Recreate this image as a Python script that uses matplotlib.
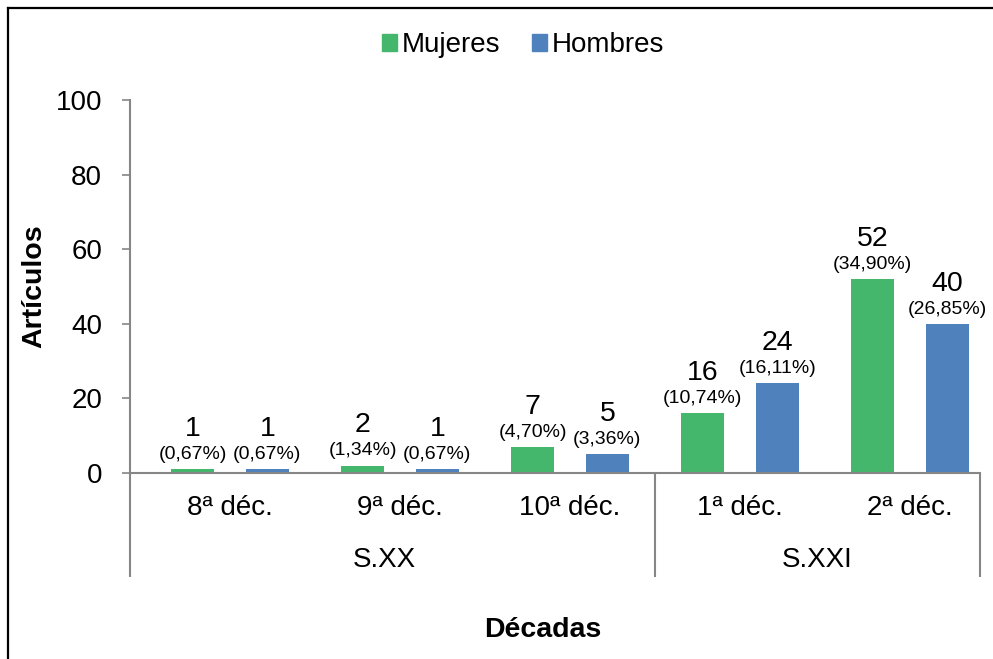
import matplotlib
matplotlib.use("Agg")
import matplotlib.pyplot as plt
import matplotlib.transforms as mtransforms
from matplotlib.patches import Patch
from matplotlib.lines import Line2D
import numpy as np

# --- data ---
decades = ["8ª déc.", "9ª déc.", "10ª déc.", "1ª déc.", "2ª déc."]
centuries = ["S.XX", "S.XXI"]
mujeres = [1, 2, 7, 16, 52]
hombres = [1, 1, 5, 24, 40]
mujeres_pct = ["(0,67%)", "(1,34%)", "(4,70%)", "(10,74%)", "(34,90%)"]
hombres_pct = ["(0,67%)", "(0,67%)", "(3,36%)", "(16,11%)", "(26,85%)"]

GREEN = "#45B76C"
BLUE = "#4F81BD"
AXIS = "#868686"
FONT = ["Liberation Sans", "DejaVu Sans"]

plt.rcParams["font.family"] = FONT

fig = plt.figure(figsize=(9.93, 6.59), dpi=100)
ax = fig.add_axes([130 / 993, 1 - 473 / 659, 850 / 993, 373 / 659])

x = np.arange(len(decades))
w = 0.25
off = 0.22
ax.bar(x - off, mujeres, w, color=GREEN, edgecolor="none")
ax.bar(x + off, hombres, w, color=BLUE, edgecolor="none")

ax.set_xlim(-0.588, 4.412)
ax.set_ylim(0, 100)
ax.set_yticks(range(0, 101, 20))
ax.tick_params(axis="y", labelsize=20, length=6, width=1.2, color=AXIS, pad=14)
ax.set_xticks([])

for s in ["top", "right"]:
    ax.spines[s].set_visible(False)
for s in ["left", "bottom"]:
    ax.spines[s].set_color(AXIS)
    ax.spines[s].set_linewidth(1.5)

# data labels: count + percentage
for vals, pcts, sign in [(mujeres, mujeres_pct, -1), (hombres, hombres_pct, 1)]:
    for i, (v, p) in enumerate(zip(vals, pcts)):
        xi = i + sign * off
        ax.annotate(p, (xi, v), xytext=(0, 10.5), textcoords="offset points",
                    ha="center", va="center", fontsize=14)
        ax.annotate(str(v), (xi, v), xytext=(0, 29), textcoords="offset points",
                    ha="center", va="center", fontsize=20.5)

# multi-level category axis
trans = mtransforms.blended_transform_factory(ax.transData, ax.transAxes)
low = -104 / 373
for xb in [-0.588, 2.5, 4.412]:
    ax.plot([xb, xb], [0, low], transform=trans, color=AXIS, lw=1.5,
            clip_on=False, solid_capstyle="butt")
for i, lab in enumerate(decades):
    ax.annotate(lab, (i, 0), xycoords=trans, xytext=(0, -25.5),
                textcoords="offset points", ha="center", va="center", fontsize=20)
bounds = [(-0.588, 2.5), (2.5, 4.412)]
for lab, (a, b) in zip(centuries, bounds):
    ax.annotate(lab, ((a + b) / 2 - 0.05 * (lab == "S.XX"), 0), xycoords=trans,
                xytext=(0, -62.5), textcoords="offset points",
                ha="center", va="center", fontsize=20)

ax.set_ylabel("Artículos", fontsize=20.5, fontweight="bold")
ax.yaxis.set_label_coords(-83 / 850, 0.5)
fig.text(543 / 993, 1 - 630 / 659, "Décadas", ha="center", va="center",
         fontsize=20.5, fontweight="bold")

handles = [Patch(color=GREEN, label="Mujeres"), Patch(color=BLUE, label="Hombres")]
fig.legend(handles=handles, loc="center", bbox_to_anchor=(523 / 993, 1 - 45 / 659),
           ncol=2, frameon=False, fontsize=20, handlelength=0.55, handleheight=0.55,
           handletextpad=0.15, columnspacing=1.15, borderpad=0)

# outer frame (left and top edges visible in the crop)
fig.add_artist(Line2D([7.5 / 993, 7.5 / 993], [0, 1 - 7.5 / 659], color="black",
                      lw=1.6, transform=fig.transFigure))
fig.add_artist(Line2D([7.5 / 993, 1], [1 - 7.5 / 659, 1 - 7.5 / 659], color="black",
                      lw=1.6, transform=fig.transFigure))

fig.savefig("out.png", dpi=100)
